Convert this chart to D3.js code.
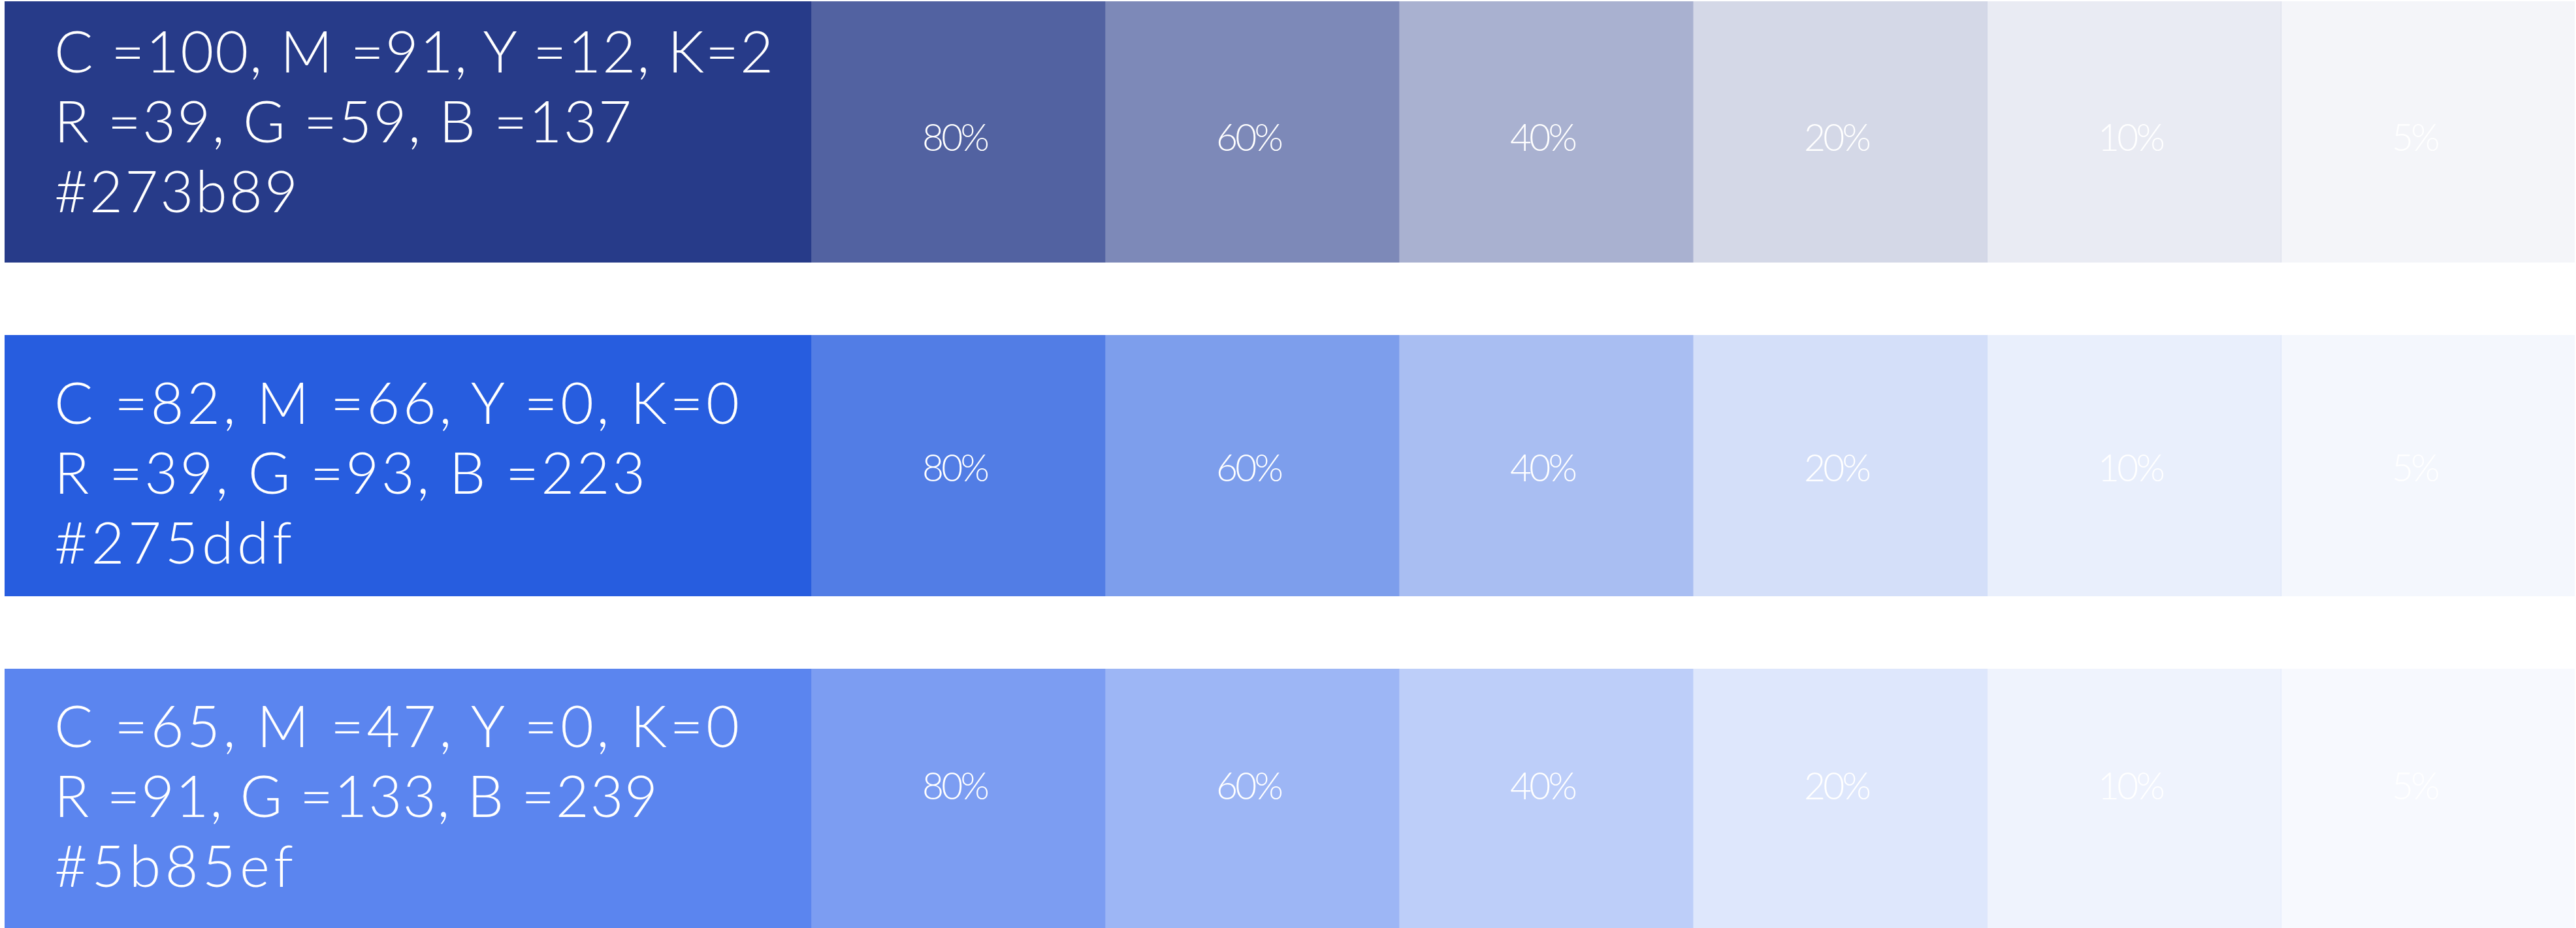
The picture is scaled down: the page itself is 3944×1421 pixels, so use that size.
<!DOCTYPE html>
<html><head><meta charset="utf-8">
<script src="https://cdn.jsdelivr.net/npm/d3@7"></script>
<style>html,body{margin:0;padding:0;background:#fff;overflow:hidden}svg{display:block}</style>
</head><body>
<svg id="chart"></svg>
<script>
// ---- data ----
const cmykLabels = ["C =100, M =91, Y =12, K=2", "C =82, M =66, Y =0, K=0", "C =65, M =47, Y =0, K=0"];
const rgbLabels  = ["R =39, G =59, B =137", "R =39, G =93, B =223", "R =91, G =133, B =239"];
const hexColors  = ["#273b89", "#275ddf", "#5b85ef"];
const tintLevels = [80, 60, 40, 20, 10, 5];

// ---- layout ----
const W = 3944, H = 1421;
const rowH = 400;
const mainX0 = 7, mainX1 = 1242;
const textTop = [109, 136, 120];      // baseline of first text line, relative to row top
const lineGap = 107;
const pctBase = [229, 224, 200];      // baseline of percentage label, relative to row top
const lineWidths = [[1101, 884, 373], [1049, 905, 364], [1049, 924, 366]]; // visual widths of the text lines
const pctOffset = 170;

const svg = d3.select("#chart").attr("width", W).attr("height", H);

const y = d3.scaleLinear().domain([0, 1]).range([2, 513]);
const x = d3.scaleBand().domain(tintLevels).range([mainX1, 3942]);

const rows = svg.selectAll("g.row").data(hexColors).join("g")
  .attr("class", "row")
  .attr("transform", (d, i) => `translate(0,${y(i)})`);

// main swatch
rows.append("rect")
  .attr("x", mainX0).attr("y", 0)
  .attr("width", mainX1 - mainX0).attr("height", rowH)
  .attr("fill", d => d);

rows.each(function(base, i) {
  const g = d3.select(this);
  const tint = t => d3.interpolateRgb("#ffffff", base)(t / 100);
  g.selectAll("rect.tint").data(tintLevels).join("rect")
    .attr("class", "tint")
    .attr("x", t => x(t)).attr("y", 0)
    .attr("width", x.bandwidth()).attr("height", rowH)
    .attr("fill", t => tint(t));
  g.selectAll("line.seam").data(tintLevels).join("line")
    .attr("class", "seam")
    .attr("x1", t => x(t) + 0.5).attr("x2", t => x(t) + 0.5)
    .attr("y1", 0).attr("y2", rowH)
    .attr("stroke", base).attr("stroke-opacity", 0.12).attr("stroke-width", 1);
  g.selectAll("text.pct").data(tintLevels).join("text")
    .attr("class", "pct")
    .attr("x", t => x(t) + pctOffset)
    .attr("y", pctBase[i])
    .attr("text-anchor", "start")
    .attr("fill", "#ffffff")
    .attr("font-family", "Lato, 'Open Sans', sans-serif")
    .attr("font-weight", 300)
    .attr("font-size", 57)
    .text(t => t + "%");

  const lines = [cmykLabels[i], rgbLabels[i], base];
  g.selectAll("text.lbl").data(lines).join("text")
    .attr("class", "lbl")
    .attr("x", 83)
    .attr("y", (d, k) => textTop[i] + k * lineGap)
    .attr("fill", "#ffffff")
    .attr("font-family", "Lato, 'Open Sans', sans-serif")
    .attr("font-weight", 300)
    .attr("font-size", 88)
    .text(d => d)
    .each(function(d, k) {
      const nat = this.getComputedTextLength();
      const ls = (lineWidths[i][k] - nat) / Math.max(1, d.length - 1);
      d3.select(this).attr("letter-spacing", ls);
    });
});

const p = svg.select("text.pct").node();
const pn = p.getComputedTextLength();
const pls = (103 - pn) / 2;
svg.selectAll("text.pct").attr("letter-spacing", pls);
</script>
</body></html>
